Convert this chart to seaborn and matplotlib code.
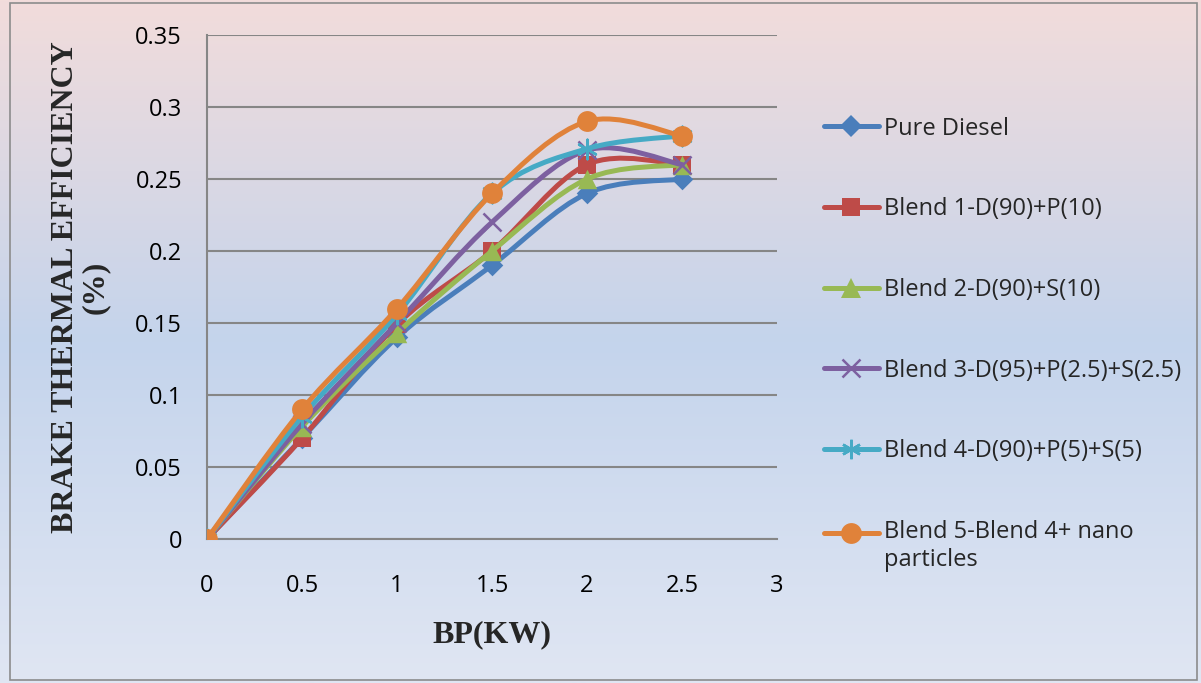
import numpy as np
import matplotlib
matplotlib.use('Agg')
import matplotlib.pyplot as plt
from matplotlib.path import Path
from matplotlib.patches import PathPatch, Rectangle
from matplotlib.lines import Line2D
from matplotlib.legend_handler import HandlerLine2D
import seaborn as sns

# data
bp = [0, 0.5, 1, 1.5, 2, 2.5]
pure_diesel = [0, 0.07, 0.14, 0.19, 0.24, 0.25]
blend1 = [0, 0.07, 0.149, 0.20, 0.26, 0.26]
blend2 = [0, 0.078, 0.143, 0.20, 0.25, 0.26]
blend3 = [0, 0.08, 0.15, 0.22, 0.27, 0.26]
blend4 = [0, 0.085, 0.156, 0.24, 0.271, 0.28]
blend5 = [0, 0.09, 0.16, 0.24, 0.29, 0.28]
series_names = ['Pure Diesel', 'Blend 1-D(90)+P(10)', 'Blend 2-D(90)+S(10)',
                'Blend 3-D(95)+P(2.5)+S(2.5)', 'Blend 4-D(90)+P(5)+S(5)',
                'Blend 5-Blend 4+ nano\nparticles']
x_ticks = [0, 0.5, 1, 1.5, 2, 2.5, 3]
x_ticklabels = ['0', '0.5', '1', '1.5', '2', '2.5', '3']
y_ticks = [0, 0.05, 0.1, 0.15, 0.2, 0.25, 0.3, 0.35]
y_ticklabels = ['0', '0.05', '0.1', '0.15', '0.2', '0.25', '0.3', '0.35']

colors = ['#4a7ebb', '#be4b48', '#98b954', '#7d60a0', '#46aac5', '#e0823a']
markers = ['D', 's', '^', 'x', (6, 2, 0), 'o']
msizes = [11, 13, 14, 13, 14, 15]
line_marks = ('x', (6, 2, 0))

sns.set_style('white')
plt.rcParams['font.family'] = ['Open Sans', 'DejaVu Sans']

fig = plt.figure(figsize=(12.01, 6.83), dpi=100)

# gradient background like the excel chart area
bg = fig.add_axes([0, 0, 1, 1], zorder=-10)
top = np.array([0xf2, 0xdc, 0xdb]) / 255
mid = np.array([0xc4, 0xd4, 0xec]) / 255
bot = np.array([0xe0, 0xe6, 0xf3]) / 255
t = np.linspace(0, 1, 300)[:, None]
grad = np.where(t < 0.5, top + (mid - top) * (t / 0.5), mid + (bot - mid) * ((t - 0.5) / 0.5))
bg.imshow(grad[:, None, :], aspect='auto', extent=[0, 1, 0, 1])
bg.set_axis_off()
fig.patches.append(Rectangle((0.008, 0.004), 0.989, 0.992, transform=fig.transFigure,
                             fill=False, edgecolor='#8c8c8c', lw=1.2))

ax = fig.add_axes([0.1724, 0.2108, 0.4746, 0.738])
ax.set_facecolor('none')


def smooth_path(xs, ys):
    # excel-like smoothed line (catmull-rom -> cubic bezier)
    pts = np.column_stack([xs, ys]).astype(float)
    p = np.vstack([pts[0], pts, pts[-1]])
    verts = [tuple(pts[0])]
    codes = [Path.MOVETO]
    for i in range(1, len(p) - 2):
        c1 = p[i] + (p[i + 1] - p[i - 1]) / 6
        c2 = p[i + 1] - (p[i + 2] - p[i]) / 6
        verts += [tuple(c1), tuple(c2), tuple(p[i + 1])]
        codes += [Path.CURVE4] * 3
    return Path(verts, codes)


class FirstLineHandler(HandlerLine2D):
    # put the legend line next to the first text line of a 2-line label
    def create_artists(self, legend, orig_handle, xdescent, ydescent, width, height,
                       fontsize, trans):
        return super().create_artists(legend, orig_handle, xdescent, ydescent - 20,
                                      width, height, fontsize, trans)


all_series = [pure_diesel, blend1, blend2, blend3, blend4, blend5]
handles = []
for i, (vals, name) in enumerate(zip(all_series, series_names)):
    ax.add_patch(PathPatch(smooth_path(bp, vals), fill=False, edgecolor=colors[i],
                           lw=3.6, capstyle='round', joinstyle='round', zorder=3 + 2 * i))
    mk = markers[i]
    mew = 1.8 if mk in line_marks else 0
    sns.scatterplot(x=bp, y=vals, color=colors[i], s=msizes[i] ** 2, marker=mk, ax=ax,
                    zorder=4 + 2 * i, legend=False, linewidth=mew)
    handles.append(Line2D([0], [0], color=colors[i], lw=3.6, marker=mk,
                          markersize=msizes[i], markeredgewidth=mew, label=name))

ax.set_xlim(0, 3)
ax.set_ylim(0, 0.35)
ax.set_xticks(x_ticks)
ax.set_xticklabels(x_ticklabels)
ax.set_yticks(y_ticks)
ax.set_yticklabels(y_ticklabels)
ax.tick_params(axis='both', labelsize=17, labelcolor='#000000', color='#868686',
               direction='out', length=7, width=1.5)
ax.tick_params(axis='y', pad=11)
ax.tick_params(axis='x', pad=18)
ax.grid(axis='y', color='#868686', lw=1.5)
ax.grid(axis='x', visible=False)
for s in ['top', 'right']:
    ax.spines[s].set_visible(False)
for s in ['left', 'bottom']:
    ax.spines[s].set_color('#868686')
    ax.spines[s].set_linewidth(1.5)

ax.set_xlabel('BP(KW)', fontsize=23, fontweight='bold', family='Liberation Serif', labelpad=16)
ax.set_ylabel('BRAKE THERMAL EFFICIENCY\n(%)', fontsize=23, fontweight='bold',
              family='Liberation Serif', labelpad=18, linespacing=1.05)

fig.legend(handles=handles, loc='upper left', bbox_to_anchor=(0.678, 0.843), frameon=False,
           fontsize=17, handlelength=2.35, handletextpad=0.2, labelspacing=2.4,
           borderaxespad=0, handler_map={handles[-1]: FirstLineHandler()})

fig.savefig('out.png', dpi=100)
